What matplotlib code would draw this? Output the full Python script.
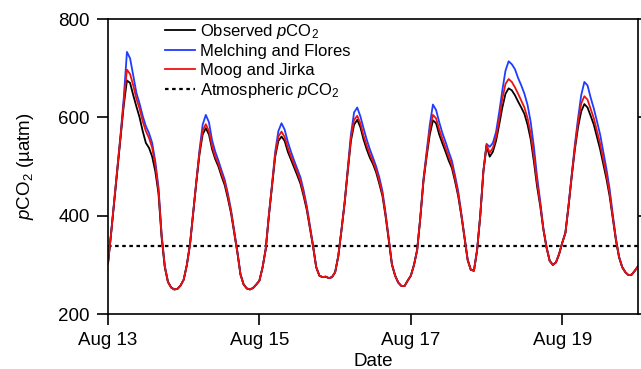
import matplotlib.pyplot as plt
import matplotlib.dates as mdates
import pandas as pd

# pCO2 (uatm), hourly from Aug 13 00:00 to Aug 20 00:00, one row per day
observed = [303, 365, 430, 495, 560, 625, 675, 670, 645, 622, 600, 572, 548, 538, 520, 490, 445, 355, 295, 265, 254, 250, 251, 258,
            270, 300, 342, 405, 468, 525, 565, 578, 565, 535, 515, 500, 480, 462, 435, 405, 365, 325, 280, 260, 252, 250, 253, 260,
            268, 295, 332, 400, 460, 520, 552, 561, 552, 530, 514, 498, 482, 465, 440, 412, 375, 337, 295, 278, 275, 276, 273, 275,
            285, 318, 370, 425, 490, 552, 585, 595, 580, 555, 535, 518, 505, 488, 465, 440, 398, 350, 300, 278, 264, 257, 257, 268,
            278, 300, 330, 395, 470, 520, 565, 594, 588, 565, 547, 530, 512, 497, 470, 440, 400, 355, 310, 290, 288, 330, 400, 490,
            542, 520, 530, 552, 585, 620, 648, 659, 655, 645, 632, 620, 607, 585, 555, 510, 460, 420, 372, 335, 308, 300, 305, 322,
            345, 365, 420, 480, 535, 580, 612, 627, 620, 603, 585, 560, 535, 505, 475, 440, 395, 350, 315, 295, 285, 279, 280, 288,
            297]
melching = [303, 366, 433, 502, 566, 640, 733, 720, 685, 650, 628, 603, 582, 568, 548, 510, 458, 362, 298, 266, 254, 250, 251, 258,
            270, 300, 343, 407, 472, 533, 585, 605, 590, 553, 530, 512, 492, 473, 445, 412, 370, 328, 281, 260, 252, 250, 253, 260,
            268, 295, 333, 402, 464, 530, 572, 588, 575, 550, 530, 512, 495, 478, 452, 420, 380, 340, 296, 278, 275, 276, 273, 275,
            285, 318, 371, 427, 495, 565, 610, 620, 602, 578, 555, 535, 518, 500, 478, 450, 405, 354, 302, 279, 264, 257, 257, 268,
            278, 300, 331, 397, 475, 530, 585, 626, 615, 590, 568, 550, 530, 512, 482, 450, 405, 358, 311, 290, 288, 330, 401, 492,
            546, 540, 548, 570, 610, 655, 695, 714, 708, 698, 680, 665, 648, 625, 590, 540, 480, 430, 375, 337, 309, 300, 305, 322,
            345, 366, 422, 484, 545, 598, 645, 672, 665, 640, 618, 592, 565, 530, 495, 455, 403, 354, 317, 296, 285, 279, 280, 288,
            297]
moog = [303, 365, 432, 499, 563, 632, 697, 688, 665, 638, 618, 592, 572, 558, 538, 502, 452, 359, 297, 265, 254, 250, 251, 258,
        270, 300, 342, 406, 470, 529, 573, 586, 572, 541, 520, 505, 485, 467, 440, 408, 367, 326, 280, 260, 252, 250, 253, 260,
        268, 295, 332, 401, 462, 525, 561, 571, 560, 538, 520, 504, 488, 470, 445, 416, 377, 338, 295, 278, 275, 276, 273, 275,
        285, 318, 370, 426, 492, 558, 595, 603, 588, 563, 543, 525, 510, 493, 470, 444, 401, 352, 301, 278, 264, 257, 257, 268,
        278, 300, 330, 396, 472, 525, 575, 605, 598, 575, 556, 538, 520, 503, 475, 444, 402, 356, 310, 290, 288, 330, 400, 491,
        544, 528, 538, 560, 595, 638, 668, 678, 672, 661, 648, 634, 620, 598, 566, 520, 468, 424, 373, 336, 308, 300, 305, 322,
        345, 365, 421, 482, 540, 590, 628, 643, 636, 617, 598, 572, 546, 515, 483, 446, 398, 352, 316, 295, 285, 279, 280, 288,
        297]
atmPCO2 = 338
tickDays = [13, 15, 17, 19]

times = pd.date_range('2013-08-13 00:00', periods=len(observed), freq='h')

plt.rcParams['font.family'] = ['Liberation Sans', 'DejaVu Sans']
plt.rcParams['mathtext.fontset'] = 'custom'
plt.rcParams['mathtext.rm'] = 'Liberation Sans'
plt.rcParams['mathtext.it'] = 'Liberation Sans:italic'

fig = plt.figure(figsize=(6.41, 3.69), dpi=100)
ax = fig.add_axes([0.1685, 0.149, 0.8268, 0.7995])

ax.plot(times, observed, color='black', linewidth=1.3, zorder=2.1,
        label=r'Observed $p$CO$_2$')
ax.plot(times, melching, color='#1f3cff', linewidth=1.3, zorder=2.0,
        label='Melching and Flores')
ax.plot(times, moog, color='#ee1111', linewidth=1.3, zorder=2.2,
        label='Moog and Jirka')
ax.axhline(atmPCO2, color='black', linewidth=1.6, linestyle=(0, (1.6, 1.6)),
           label=r'Atmospheric $p$CO$_2$')

ax.legend(loc='upper left', bbox_to_anchor=(0.1075, 0.99), frameon=False,
          fontsize=12, borderpad=0, borderaxespad=0, handlelength=1.8,
          handletextpad=0.3, labelspacing=0.2)

ax.set_ylim(200, 800)
ax.set_yticks([200, 400, 600, 800])
ax.set_xlim(pd.Timestamp('2013-08-13'), pd.Timestamp('2013-08-20'))
ax.xaxis.set_major_locator(mdates.DayLocator(bymonthday=tickDays))
ax.xaxis.set_major_formatter(mdates.DateFormatter('%b %d'))

for sp in ax.spines.values():
    sp.set_linewidth(1.2)
ax.tick_params(axis='both', direction='out', length=8, width=1.2,
               labelsize=13.5, pad=5)
ax.tick_params(axis='y', right=True)

ax.set_xlabel('Date', fontsize=13.5)
ax.xaxis.set_label_coords(0.5, -0.132)
ax.set_ylabel(r'$p$CO$_2$ (µatm)', fontsize=13.5)
ax.yaxis.set_label_coords(-0.135, 0.5)

fig.savefig('out.png', dpi=100)
